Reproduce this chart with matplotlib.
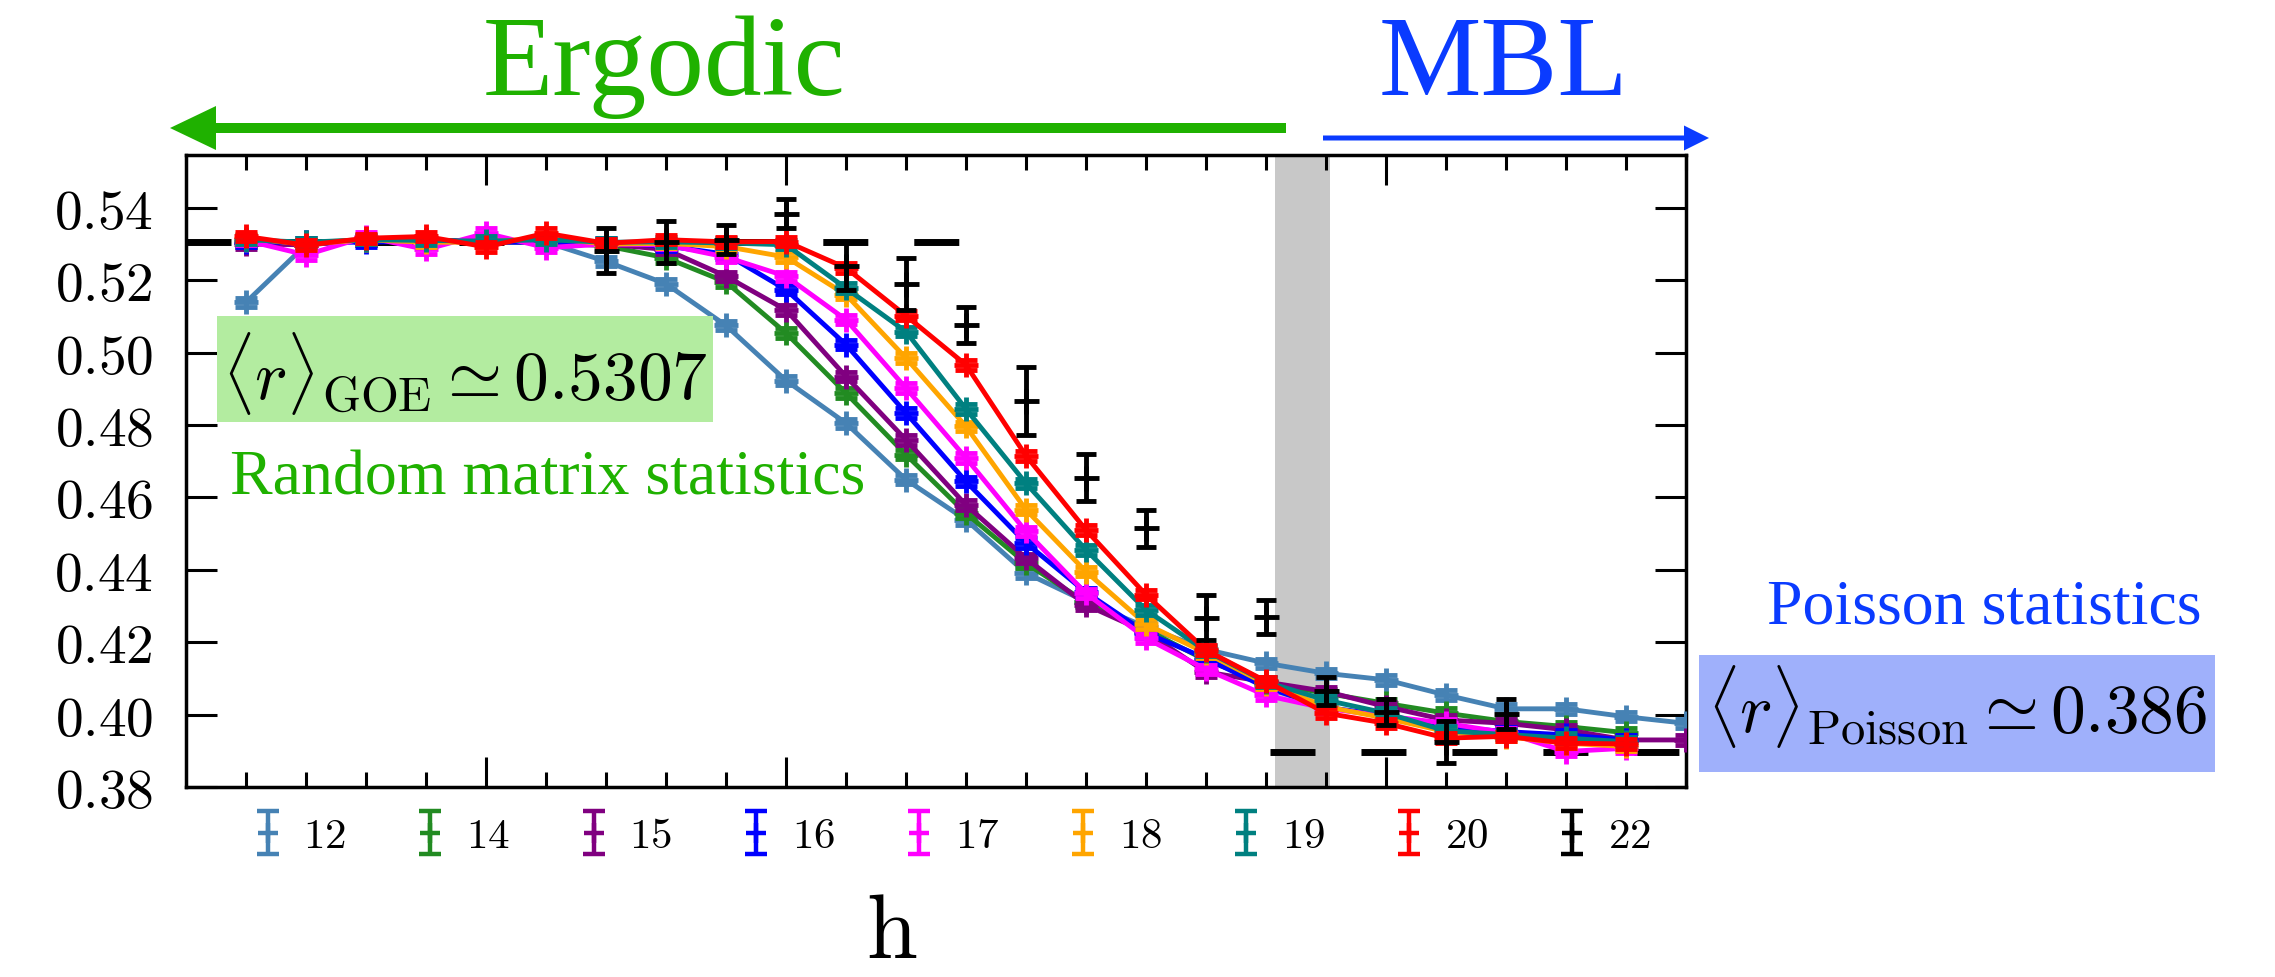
import numpy as np
import matplotlib
matplotlib.use("Agg")
import matplotlib.pyplot as plt
from matplotlib.patches import FancyArrow, Rectangle
from matplotlib.container import ErrorbarContainer
from matplotlib.legend_handler import HandlerErrorbar

plt.rcParams['mathtext.fontset'] = 'cm'
plt.rcParams['lines.scale_dashes'] = False
plt.rcParams['font.serif'] = ['Liberation Serif', 'DejaVu Serif']

# ---------------- data ----------------
h = np.arange(1, 26) * 0.5          # 25 field values (no tick labels in the original)

r12 = [0.5139, 0.5298, 0.5310, 0.5310, 0.5310, 0.5305, 0.5252, 0.5190, 0.5075, 0.4923,
       0.4805, 0.4649, 0.4538, 0.4391, 0.4312, 0.4242, 0.4180, 0.4142, 0.4114, 0.4096,
       0.4054, 0.4016, 0.4016, 0.3994, 0.3976]
r14 = [0.5305, 0.5305, 0.5310, 0.5310, 0.5305, 0.5305, 0.5295, 0.5262, 0.5195, 0.5054,
       0.4888, 0.4718, 0.4556, 0.4418, 0.4310, 0.4235, 0.4150, 0.4088, 0.4059, 0.4031,
       0.4004, 0.3981, 0.3967, 0.3950]
r15 = [0.5300, 0.5298, 0.5310, 0.5310, 0.5308, 0.5305, 0.5300, 0.5285, 0.5211, 0.5118,
       0.4934, 0.4759, 0.4579, 0.4432, 0.4303, 0.4228, 0.4118, 0.4090, 0.4064, 0.4022,
       0.3985, 0.3976, 0.3958, 0.3930, 0.3930]
r16 = [0.5305, 0.5305, 0.5305, 0.5308, 0.5305, 0.5305, 0.5303, 0.5295, 0.5272, 0.5174,
       0.5022, 0.4833, 0.4644, 0.4474, 0.4338, 0.4226, 0.4155, 0.4075, 0.4020, 0.3998,
       0.3967, 0.3953, 0.3944, 0.3930]
r17 = [0.5310, 0.5270, 0.5320, 0.5285, 0.5330, 0.5290, 0.5300, 0.5298, 0.5264, 0.5211,
       0.5091, 0.4902, 0.4709, 0.4506, 0.4335, 0.4211, 0.4125, 0.4053, 0.4017, 0.3996,
       0.3976, 0.3950, 0.3898, 0.3907]
r18 = [0.5315, 0.5300, 0.5312, 0.5305, 0.5305, 0.5318, 0.5300, 0.5302, 0.5293, 0.5264,
       0.5160, 0.4985, 0.4796, 0.4566, 0.4395, 0.4250, 0.4170, 0.4085, 0.4022, 0.3990,
       0.3953, 0.3939, 0.3921, 0.3912]
r19 = [0.5312, 0.5305, 0.5312, 0.5310, 0.5308, 0.5312, 0.5305, 0.5306, 0.5303, 0.5298,
       0.5178, 0.5058, 0.4844, 0.4639, 0.4455, 0.4289, 0.4176, 0.4090, 0.4040, 0.4004,
       0.3955, 0.3945, 0.3935, 0.3925]
r20 = [0.5321, 0.5297, 0.5316, 0.5321, 0.5292, 0.5330, 0.5302, 0.5312, 0.5306, 0.5307,
       0.5234, 0.5102, 0.4966, 0.4715, 0.4510, 0.4331, 0.4178, 0.4092, 0.4004, 0.3976,
       0.3935, 0.3940, 0.3921, 0.3919]
err_small = 0.0013   # typical (tiny) error bar of the L<=20 curves

h22 = h[6:22]
r22 = [0.5282, 0.5306, 0.5312, 0.5384, 0.5240, 0.5190, 0.5077, 0.4866, 0.4655, 0.4515,
       0.4268, 0.4270, 0.4066, 0.4008, 0.3925, 0.4002]
e22 = [0.0061, 0.0058, 0.0040, 0.0040, 0.0066, 0.0072, 0.0050, 0.0093, 0.0065, 0.0051,
       0.0062, 0.0047, 0.0039, 0.0036, 0.0058, 0.0041]

sizes = ['12', '14', '15', '16', '17', '18', '19', '20']
curves = [r12, r14, r15, r16, r17, r18, r19, r20]
colors = ['#4682b4', '#228b22', '#800080', '#0000ff', '#ff00ff', '#ffa500', '#008080', '#ff0000']

r_goe = 0.5307
r_poi_drawn = 0.3898
goe_span = (0.0, 6.46)
poi_span = (9.03, 12.5)
crossover = (9.075, 9.533)

yticks = [0.38, 0.40, 0.42, 0.44, 0.46, 0.48, 0.50, 0.52, 0.54]

# ---------------- figure ----------------
W, H = 2275, 977
fig = plt.figure(figsize=(W / 100, H / 100), dpi=100)
ax = fig.add_axes([186 / W, 1 - 787 / H, 1500 / W, 632 / H])

ax.axvspan(*crossover, color='#c8c8c8', lw=0, zorder=0)

dash = (32.4, 33.1)
ax.plot(goe_span, [r_goe, r_goe], color='black', lw=5, dashes=dash,
        solid_capstyle='butt', dash_capstyle='butt', zorder=1)
ax.plot(poi_span, [r_poi_drawn, r_poi_drawn], color='black', lw=5, dashes=dash,
        solid_capstyle='butt', dash_capstyle='butt', zorder=1)

for k, (r, c) in enumerate(zip(curves, colors)):
    x = h[:len(r)]
    ax.errorbar(x, r, yerr=err_small, color=c, lw=3.5, marker='+', ms=17, mew=3.5,
                elinewidth=3.2, capsize=8, capthick=3.2, zorder=3 + k)

ax.errorbar(h22, r22, yerr=e22, fmt='+', color='black', ms=18, mew=3.5,
            elinewidth=3.5, capsize=7.5, capthick=3.5, zorder=20)

ax.set_xlim(0, 12.5)
ax.set_ylim(0.38, 0.5546)
ax.set_yticks(yticks)
ax.set_yticklabels([f'${v:.2f}$' for v in yticks])
ax.set_xticks([2.5, 5.0, 10.0])
ax.set_xticks(h, minor=True)
ax.set_xticklabels([])
ax.tick_params(axis='both', which='both', direction='in', top=True, right=True,
               width=2.2, colors='black')
ax.tick_params(axis='y', which='major', length=22.3, labelsize=40, pad=23.8)
ax.tick_params(axis='x', which='major', length=21.6)
ax.tick_params(axis='x', which='minor', length=10.8)
for s in ax.spines.values():
    s.set_linewidth(2.5)

# legend (proxies without drawn data)
handles = []
for c in colors + ['black']:
    eb = ax.errorbar([np.nan], [np.nan], yerr=[0.001], fmt='+', color=c, ms=15, mew=3.2,
                     elinewidth=3.2, capsize=8, capthick=3.2)
    handles.append(eb)
leg = ax.legend(handles, [f'${s}$' for s in sizes + ['22']], ncol=9, frameon=False,
                fontsize=31, loc='center left',
                bbox_to_anchor=(246 / W, 1 - 836 / H), bbox_transform=fig.transFigure,
                borderpad=0, borderaxespad=0, handlelength=1.0, handletextpad=0.33,
                columnspacing=1.45,
                handler_map={ErrorbarContainer: HandlerErrorbar(yerr_size=0.5)})

# x label
fig.text(892 / W, 1 - 958 / H, r'$\mathrm{h}$', ha='center', va='baseline', fontsize=66)

# ---------------- annotations ----------------
green = '#1fb100'
blue = '#0a3bff'

fig.text(664 / W, 1 - 95 / H, 'Ergodic', ha='center', va='baseline',
         fontsize=83, color=green, family='serif')
fig.text(1504 / W, 1 - 95 / H, 'MBL', ha='center', va='baseline',
         fontsize=83, color=blue, family='serif')

fig.add_artist(FancyArrow(1286 / W, 1 - 128 / H, -(1286 - 170) / W, 0,
                          width=10 / H, head_width=44 / H, head_length=46 / W,
                          length_includes_head=True, color=green, lw=0,
                          transform=fig.transFigure))
fig.add_artist(FancyArrow(1323 / W, 1 - 138 / H, (1709 - 1323) / W, 0,
                          width=5 / H, head_width=25 / H, head_length=25 / W,
                          length_includes_head=True, color=blue, lw=0,
                          transform=fig.transFigure))

# GOE box
fig.add_artist(Rectangle((217 / W, 1 - 422 / H), (713 - 217) / W, (422 - 316) / H,
                         transform=fig.transFigure, color='#b3eca0', lw=0, zorder=5))
fig.text(465 / W, 1 - 400 / H, r'$\langle r\rangle_{\rm GOE}\simeq 0.5307$',
         ha='center', va='baseline', fontsize=50, zorder=6)
fig.text(548 / W, 1 - 495 / H, 'Random matrix statistics', ha='center', va='baseline',
         fontsize=46, color=green, family='serif')

# Poisson box
fig.add_artist(Rectangle((1699 / W, 1 - 772 / H), (2215 - 1699) / W, (772 - 655) / H,
                         transform=fig.transFigure, color='#9fb0fb', lw=0, zorder=5))
fig.text(1957 / W, 1 - 733 / H, r'$\langle r\rangle_{\rm Poisson}\simeq 0.386$',
         ha='center', va='baseline', fontsize=50, zorder=6)
fig.text(1984 / W, 1 - 623 / H, 'Poisson statistics', ha='center', va='baseline',
         fontsize=46, color=blue, family='serif')

fig.savefig('out.png', dpi=100)
